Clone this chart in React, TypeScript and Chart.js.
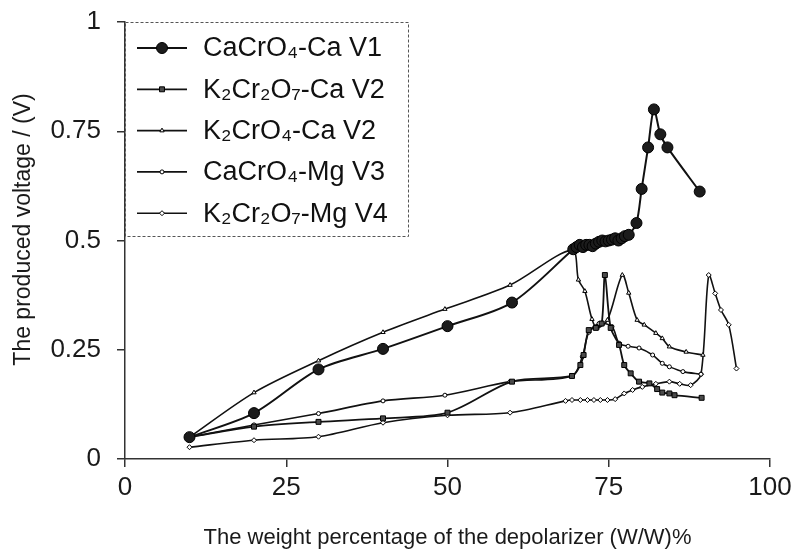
import React, { useEffect, useRef } from 'react';
import { Chart, registerables } from 'chart.js';
import { drawPoint } from 'chart.js/helpers';

Chart.register(...registerables);

const FONT = '"Liberation Sans", Arial, Helvetica, sans-serif';

// ---- axes ----
const xTicks = [0, 25, 50, 75, 100];
const yTicks = [0, 0.25, 0.5, 0.75, 1];
const yTickLabels = ['0', '0.25', '0.5', '0.75', '1'];
const xTitle = 'The weight percentage of the depolarizer (W/W)%';
const yTitle = 'The produced voltage / (V)';

// ---- series labels ----
const seriesLabels = [
  'CaCrO₄-Ca V1',
  'K₂Cr₂O₇-Ca V2',
  'K₂CrO₄-Ca V2',
  'CaCrO₄-Mg V3',
  'K₂Cr₂O₇-Mg V4',
];

// ---- series values ----
const s1X = [10, 20, 30, 40, 50, 60, 69.5, 70, 70.5, 71, 71.5, 72, 72.5, 73, 73.5, 74, 74.5, 75, 75.5, 76, 76.5, 77, 77.5, 78.1, 79.3, 80.1, 81.1, 82, 83, 84.1, 89.1];
const s1Y = [0.05, 0.105, 0.205, 0.252, 0.304, 0.358, 0.48, 0.485, 0.49, 0.485, 0.49, 0.49, 0.487, 0.493, 0.497, 0.5, 0.498, 0.5, 0.502, 0.505, 0.5, 0.505, 0.51, 0.513, 0.54, 0.618, 0.713, 0.8, 0.743, 0.713, 0.612];

const s2X = [10, 20, 30, 40, 50, 60, 69.3, 70.6, 71.1, 71.9, 73.0, 73.9, 74.4, 75.3, 76.6, 77.4, 78.4, 79.7, 81.3, 82.5, 83.3, 84.4, 85.2, 89.4];
const s2Y = [0.05, 0.074, 0.085, 0.093, 0.106, 0.177, 0.19, 0.215, 0.238, 0.295, 0.3, 0.31, 0.421, 0.3, 0.261, 0.215, 0.196, 0.177, 0.173, 0.16, 0.152, 0.15, 0.146, 0.14];

const s3X = [10, 20, 30, 40, 49.6, 59.7, 69.3, 70.3, 71.3, 72.4, 73.2, 74.8, 77.1, 78.1, 79.4, 80.5, 82.3, 83.3, 84.4, 87, 89.6];
const s3Y = [0.05, 0.152, 0.225, 0.29, 0.343, 0.398, 0.478, 0.41, 0.384, 0.32, 0.3, 0.318, 0.421, 0.38, 0.318, 0.307, 0.288, 0.276, 0.257, 0.245, 0.238];

const s4X = [10, 20, 30, 40, 49.6, 59.7, 69.3, 70.9, 71.9, 73.5, 75.5, 76.6, 78, 79.7, 81.8, 83.3, 84.4, 86.5, 89.3];
const s4Y = [0.05, 0.078, 0.104, 0.133, 0.146, 0.177, 0.19, 0.234, 0.29, 0.31, 0.303, 0.265, 0.258, 0.254, 0.238, 0.219, 0.211, 0.2, 0.194];

const s5X = [10, 20, 30, 40, 50, 59.7, 68.3, 69.3, 70.6, 71.7, 72.7, 73.7, 74.8, 76, 77.4, 78.7, 80.2, 82.3, 84.4, 86, 87.7, 89.3, 90.5, 91.5, 92.4, 93.6, 94.8];
const s5Y = [0.027, 0.043, 0.051, 0.083, 0.1, 0.106, 0.133, 0.135, 0.135, 0.135, 0.135, 0.135, 0.135, 0.137, 0.15, 0.158, 0.165, 0.172, 0.177, 0.172, 0.169, 0.194, 0.421, 0.379, 0.341, 0.307, 0.207];

const seriesX = [s1X, s2X, s3X, s4X, s5X];
const seriesY = [s1Y, s2Y, s3Y, s4Y, s5Y];

const seriesStyles = [
  { pointStyle: 'circle', radius: 5.5, bg: '#1c1c1c', lw: 2 },
  { pointStyle: 'rect', radius: 3.5, bg: '#4a4a4a', lw: 1.8 },
  { pointStyle: 'triangle', radius: 2.5, bg: '#ffffff', lw: 1.6 },
  { pointStyle: 'circle', radius: 2, bg: '#ffffff', lw: 1.6 },
  { pointStyle: 'rectRot', radius: 2.5, bg: '#ffffff', lw: 1.6 },
];

const legendPlugin = {
  id: 'boxLegend',
  afterDatasetsDraw(chart: any) {
    const { ctx, chartArea } = chart;
    const left = chartArea.left;
    const top = chartArea.top;
    const w = 283;
    const h = 214;
    ctx.save();
    ctx.setLineDash([3, 2]);
    ctx.strokeStyle = '#555';
    ctx.lineWidth = 1;
    ctx.strokeRect(left + 0.5, top + 0.5, w, h);
    ctx.setLineDash([]);
    chart.data.datasets.forEach((ds: any, i: number) => {
      const y = top + 26 + i * 41.3;
      ctx.strokeStyle = ds.borderColor;
      ctx.lineWidth = ds.borderWidth;
      ctx.beginPath();
      ctx.moveTo(left + 12, y);
      ctx.lineTo(left + 62, y);
      ctx.stroke();
      ctx.fillStyle = ds.pointBackgroundColor;
      ctx.strokeStyle = ds.pointBorderColor;
      ctx.lineWidth = ds.pointBorderWidth;
      drawPoint(ctx, { pointStyle: ds.pointStyle, radius: ds.pointRadius, rotation: 0, borderWidth: ds.pointBorderWidth } as any, left + 37, y);
      ctx.fillStyle = '#111';
      ctx.font = `27px ${FONT}`;
      ctx.textBaseline = 'middle';
      ctx.textAlign = 'left';
      ctx.fillText(ds.label, left + 78, y + 1);
    });
    // y-axis title
    ctx.translate(24, (chartArea.top + chartArea.bottom) / 2 - 11);
    ctx.rotate(-Math.PI / 2);
    ctx.fillStyle = '#1a1a1a';
    ctx.font = `23px ${FONT}`;
    ctx.textAlign = 'center';
    ctx.textBaseline = 'middle';
    ctx.fillText(yTitle, 0, 0);
    ctx.restore();
  },
};

export default function App() {
  const ref = useRef<HTMLCanvasElement>(null);
  useEffect(() => {
    if (!ref.current) return;
    const datasets = seriesLabels.map((label, i) => ({
      label,
      data: seriesX[i].map((x, j) => ({ x, y: seriesY[i][j] })),
      borderColor: '#111',
      borderWidth: seriesStyles[i].lw,
      pointStyle: seriesStyles[i].pointStyle,
      pointRadius: seriesStyles[i].radius,
      pointBackgroundColor: seriesStyles[i].bg,
      pointBorderColor: '#000',
      pointBorderWidth: 1,
      tension: 0.3,
      fill: false,
    }));
    const chart = new Chart(ref.current, {
      type: 'line',
      data: { datasets },
      plugins: [legendPlugin],
      options: {
        responsive: false,
        animation: false,
        devicePixelRatio: 1,
        layout: { padding: { top: 22, right: 22, left: 0, bottom: 0 } },
        plugins: { legend: { display: false }, tooltip: { enabled: false } },
        scales: {
          x: {
            type: 'linear',
            min: xTicks[0],
            max: xTicks[xTicks.length - 1],
            afterFit: (s: any) => { s.height = 93; s.paddingLeft = 0; s.paddingRight = 0; },
            afterBuildTicks: (s: any) => { s.ticks = xTicks.map((v) => ({ value: v })); },
            ticks: { font: { family: FONT, size: 26 }, color: '#1a1a1a', padding: 5, callback: (v: any) => String(v) },
            grid: { display: true, drawOnChartArea: false, drawTicks: true, tickLength: 8, color: '#333', lineWidth: 1.5 },
            border: { display: true, color: '#333', width: 1.5 },
            title: { display: true, text: xTitle, font: { family: FONT, size: 22 }, color: '#1a1a1a', padding: { top: 0, bottom: 1 } },
          },
          y: {
            type: 'linear',
            min: yTicks[0],
            max: yTicks[yTicks.length - 1],
            afterFit: (s: any) => { s.width = 125; s.paddingTop = 0; s.paddingBottom = 0; },
            afterBuildTicks: (s: any) => { s.ticks = yTicks.map((v) => ({ value: v })); },
            ticks: {
              font: { family: FONT, size: 26 },
              color: '#1a1a1a',
              padding: 16,
              callback: (v: any) => {
                const k = yTicks.indexOf(Number(v));
                return k >= 0 ? yTickLabels[k] : String(v);
              },
            },
            grid: { display: true, drawOnChartArea: false, drawTicks: true, tickLength: 8, color: '#333', lineWidth: 1.5 },
            border: { display: true, color: '#333', width: 1.5 },
            title: { display: false },
          },
        },
      } as any,
    });
    return () => chart.destroy();
  }, []);
  return (
    <div style={{ position: 'fixed', left: 0, top: 0, width: 792, height: 552, background: '#fff' }}>
      <canvas ref={ref} width={792} height={552} style={{ width: 792, height: 552, display: 'block' }} />
    </div>
  );
}
